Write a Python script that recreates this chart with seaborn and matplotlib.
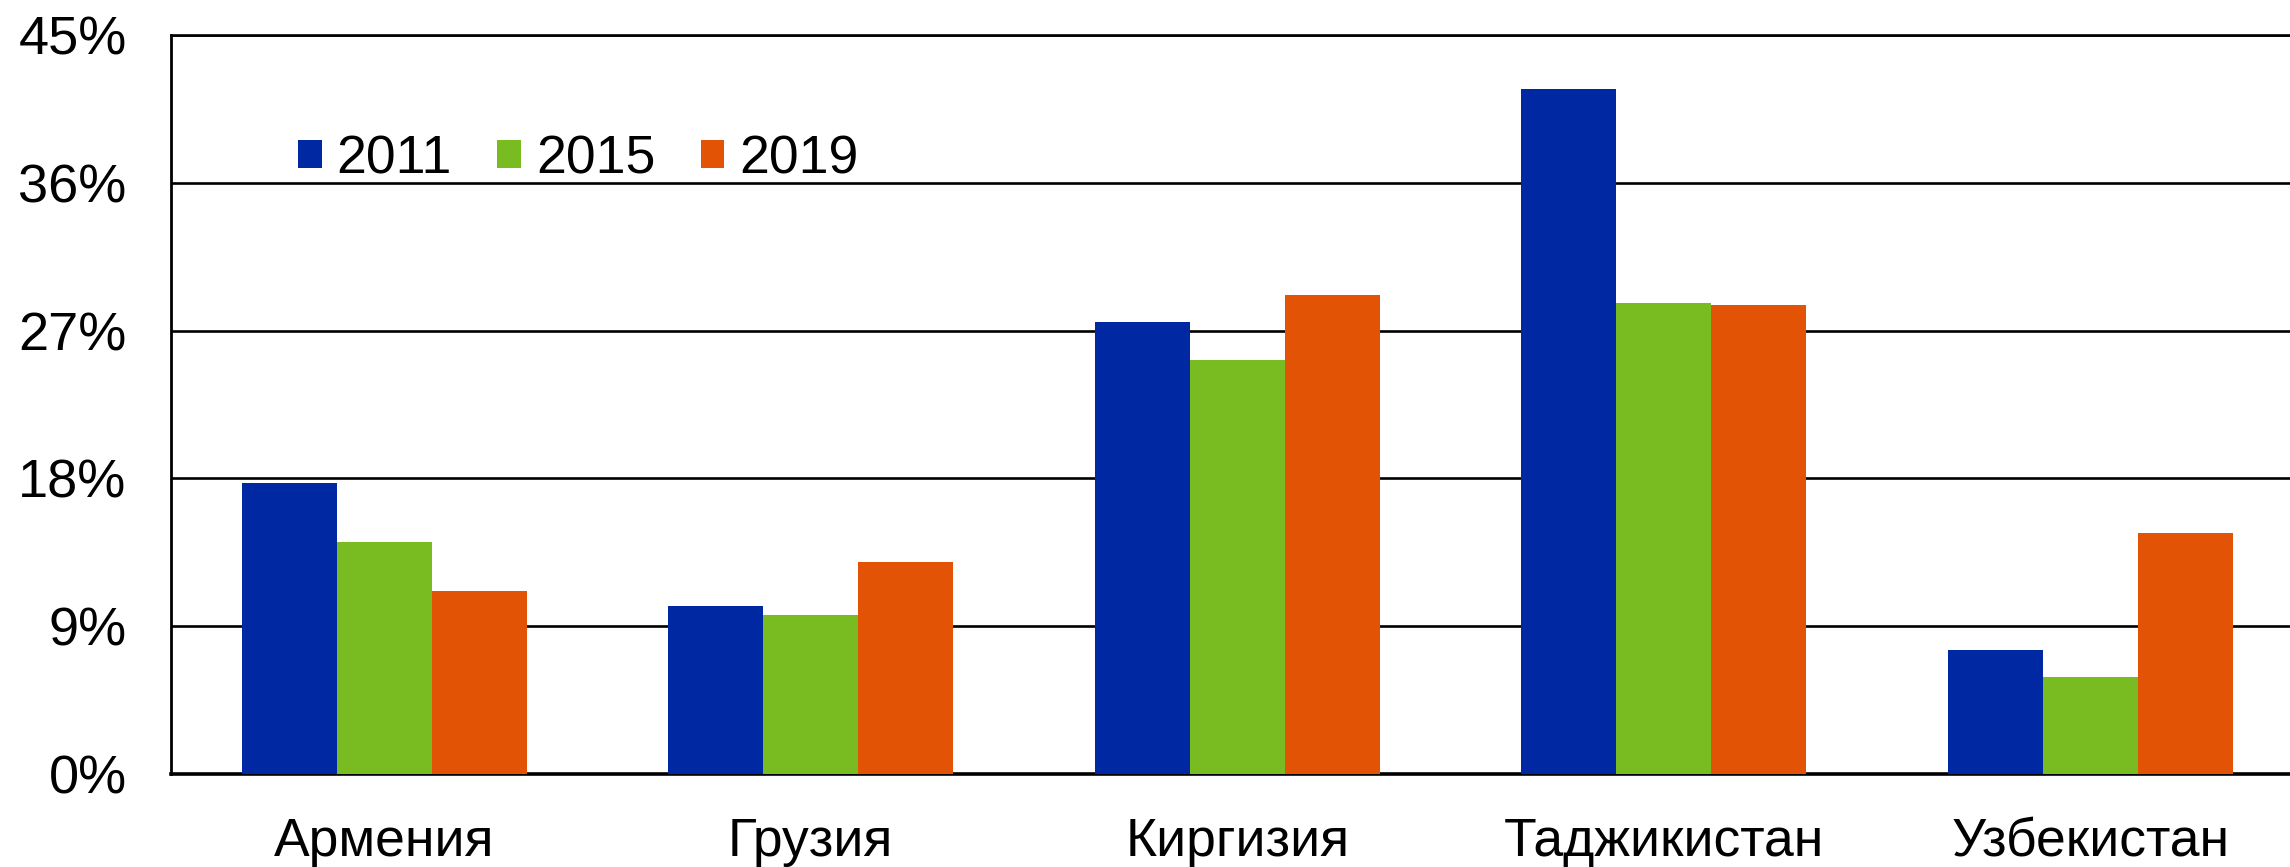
import matplotlib
matplotlib.use("Agg")
import matplotlib.pyplot as plt
from matplotlib.ticker import FixedLocator
import seaborn as sns
import pandas as pd

countries = ["Армения", "Грузия", "Киргизия", "Таджикистан", "Узбекистан"]
years = ["2011", "2015", "2019"]
v2011 = [17.7, 10.2, 27.55, 41.7, 7.55]
v2015 = [14.1, 9.7, 25.2, 28.7, 5.9]
v2019 = [11.15, 12.9, 29.15, 28.55, 14.7]
yticks = [0, 9, 18, 27, 36, 45]
ytick_labels = ["0%", "9%", "18%", "27%", "36%", "45%"]
colors = ["#0028A3", "#79BC21", "#E35306"]

rows = []
for yr, vals in zip(years, [v2011, v2015, v2019]):
    for c, v in zip(countries, vals):
        rows.append({"country": c, "year": yr, "value": v})
df = pd.DataFrame(rows)

sns.set_style("white")
plt.rcParams["font.family"] = ["Liberation Sans", "DejaVu Sans"]
plt.rcParams["text.color"] = "black"
plt.rcParams["xtick.color"] = "black"
plt.rcParams["ytick.color"] = "black"
plt.rcParams["axes.labelcolor"] = "black"

fig = plt.figure(figsize=(22.9, 8.67), dpi=100)
left, bottom, top = 171 / 2290, 1 - 774 / 867, 1 - 35 / 867
ax = fig.add_axes([left, bottom, 1 - left, top - bottom])

sns.barplot(data=df, x="country", y="value", hue="year", order=countries,
            hue_order=years, palette=colors, saturation=1, width=0.668,
            gap=0, linewidth=0, errorbar=None, ax=ax, zorder=3)

ax.set_ylim(0, 45)
ncat = (2290 - 171) / 426.5
ax.set_xlim(-0.5, -0.5 + ncat)
ax.set_xlabel("")
ax.set_ylabel("")

ax.set_yticks(yticks)
ax.set_yticklabels(ytick_labels)
ax.yaxis.grid(True, color="black", linewidth=1.9, zorder=1)
ax.set_axisbelow(True)
ax.tick_params(axis="y", length=0, pad=32, labelsize=39, labelcolor="black")
ax.tick_params(axis="x", which="major", length=0, pad=31, labelsize=38.5,
               labelcolor="black")
ax.xaxis.set_minor_locator(FixedLocator([-0.5, 0.5, 1.5, 2.5, 3.5, 4.5]))
ax.tick_params(axis="x", which="minor", length=9, width=1.8, direction="out",
               color="black")

ax.spines["right"].set_visible(False)
ax.spines["top"].set_visible(True)
ax.spines["top"].set_color("black")
ax.spines["top"].set_linewidth(1.9)
ax.spines["left"].set_color("black")
ax.spines["left"].set_linewidth(2.0)
ax.spines["bottom"].set_color("black")
ax.spines["bottom"].set_linewidth(2.6)

handles, labels = ax.get_legend_handles_labels()
leg = ax.legend(handles, labels, loc="center left",
                bbox_to_anchor=((298 - 171) / 2119, (774 - 159) / 739),
                ncol=3, frameon=False, fontsize=38.5, handlelength=0.44,
                handleheight=0.44, handletextpad=0.28, columnspacing=0.85,
                borderpad=0, borderaxespad=0)
for t in leg.get_texts():
    t.set_color("black")

fig.savefig("out.png", dpi=100)
